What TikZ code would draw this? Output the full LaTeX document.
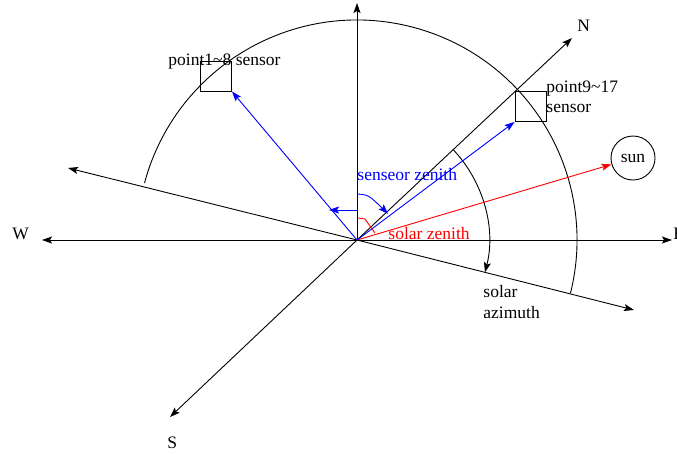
\documentclass[tikz,border=0pt]{standalone}
\usepackage{fontspec}
\setmainfont{Liberation Serif}
\usetikzlibrary{arrows.meta}
\begin{document}
\begin{tikzpicture}[x=1pt,y=1pt,
  line width=0.9pt,
  tip/.style={-{Stealth[length=10pt,width=7pt,inset=2pt]}},
  lbl/.style={font=\fontsize{17.5}{20}\selectfont, inner sep=0pt, anchor=base west},
  sensorbox/.style={draw, minimum width=31pt, minimum height=30pt, inner sep=0pt},
  sunnode/.style={draw, circle, minimum size=44pt, inner sep=0pt, font=\fontsize{17.5}{20}\selectfont},
]
\useasboundingbox (0,0) rectangle (677,-453);
\coordinate (O) at (357,-240);
\coordinate (Wt) at (42,-240);
\coordinate (Et) at (672,-240);
\coordinate (Up) at (357,-3);
\coordinate (NW) at (68,-168);
\coordinate (SE) at (634,-310);
\coordinate (Nt) at (572,-38);
\coordinate (St) at (170,-417);

\draw[tip] (O) -- (Up);
\draw[tip] (O) -- (Wt);
\draw[tip] (O) -- (Et);
\draw[tip] (O) -- (NW);
\draw[tip] (O) -- (SE);
\draw[tip] (O) -- (Nt);
\draw[tip] (O) -- (St);

\node[lbl] (W) at (12,-239) {W};
\node[lbl] (N) at (577,-31) {N};
\node[lbl] (S) at (167,-448) {S};
\node[lbl] (E) at (673,-239) {E};

% big arc
\draw (O) ++(165:220) arc[start angle=165, end angle=-14, radius=220];
% solar azimuth arc
\draw[tip] (O) ++(43.2:132) arc[start angle=43.2, end angle=-14.2, radius=132];
\node[lbl] (az1) at (483,-297) {solar};
\node[lbl] (az2) at (483,-318) {azimuth};

% sun
\node[sunnode] (sun) at (633,-158) {sun};
\draw[red, tip] (O) -- (sun);

% sensors
\node[sensorbox] (b1) at (216,-76) {};
\node[sensorbox] (b2) at (530.5,-106.5) {};
\node[lbl] (l1) at (168,-65) {point1\textasciitilde 8 sensor};
\node[lbl] (l2a) at (546,-92) {point9\textasciitilde 17};
\node[lbl] (l2b) at (546,-112) {sensor};
\draw[blue, tip] (O) -- (b1.south east);
\draw[blue, tip] (O) -- (b2.south west);

% sensor zenith
\coordinate (za) at (357,-210);
\coordinate (zb) at (329,-210);
\draw[blue, tip] (za) -- (zb);
\coordinate (wa) at (357,-194);
\coordinate (wb) at (388,-214);
\draw[blue, tip] plot[smooth, tension=0.6] coordinates {(wa) (368,-196) (379,-205) (wb)};
\node[lbl, blue] (sz) at (357,-180) {senseor zenith};

% solar zenith
\coordinate (ra) at (358,-218);
\coordinate (rb) at (375,-233);
\draw[red] (ra) -- (365,-219) -- (rb);
\node[lbl, red] (rz) at (388,-239) {solar zenith};
\end{tikzpicture}
\end{document}
